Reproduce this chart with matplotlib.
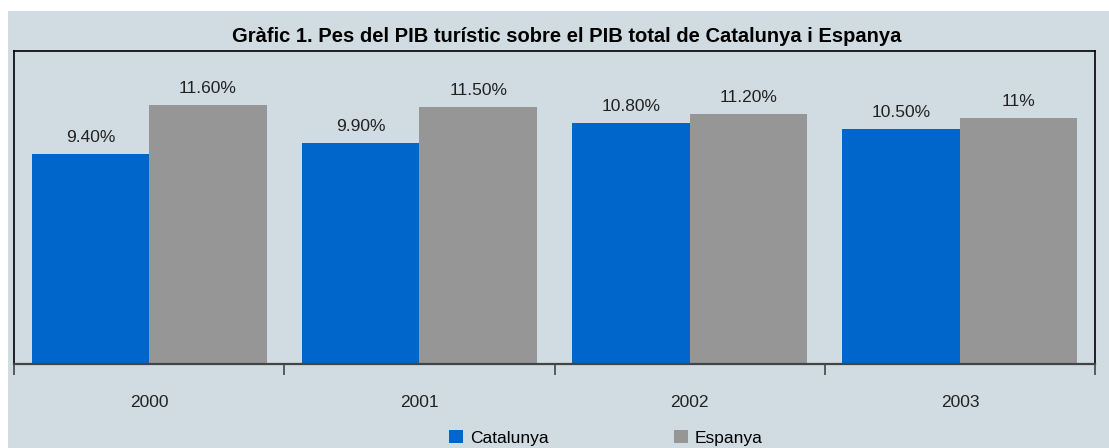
import numpy as np
import matplotlib.pyplot as plt
from matplotlib.patches import Rectangle

plt.rcParams['font.family'] = ['Liberation Sans', 'DejaVu Sans']

years = ['2000', '2001', '2002', '2003']
catalunya = [9.4, 9.9, 10.8, 10.5]
espanya = [11.6, 11.5, 11.2, 11.0]
cat_labels = ['9.40%', '9.90%', '10.80%', '10.50%']
esp_labels = ['11.60%', '11.50%', '11.20%', '11%']

bg = '#D0DCE1'
blue = '#0066CC'
grey = '#969696'

fig = plt.figure(figsize=(11.09, 4.48), dpi=100)
fig.patch.set_facecolor('white')
fig.patches.append(Rectangle((8 / 1109, 0), 1 - 8 / 1109, 1 - 11 / 448,
                             transform=fig.transFigure, facecolor=bg,
                             edgecolor='none', zorder=-5))

ax = fig.add_axes([14 / 1109, 1 - 364 / 448, 1081 / 1109, 313 / 448])
ax.set_zorder(1)
ax.set_facecolor(bg)

x = np.arange(len(years))
w = 0.435
ax.bar(x - w / 2, catalunya, w, color=blue, label='Catalunya')
ax.bar(x + w / 2, espanya, w, color=grey, label='Espanya')

for i in range(len(years)):
    ax.text(x[i] - w / 2, catalunya[i] + 0.4, cat_labels[i], ha='center',
            va='bottom', fontsize=12.5, color='#222222')
    ax.text(x[i] + w / 2, espanya[i] + 0.4, esp_labels[i], ha='center',
            va='bottom', fontsize=12.5, color='#222222')

ax.set_xlim(-0.5, len(years) - 0.5)
ax.set_ylim(0, 14)
ax.set_yticks([])
ax.set_xticks(np.arange(len(years) + 1) - 0.5)
ax.set_xticklabels([])
ax.set_xticks(x, minor=True)
ax.set_xticklabels(years, minor=True, fontsize=12.5, color='#222222')
ax.tick_params(axis='x', which='major', length=8, width=1.2, color='#444444', direction='out')
ax.tick_params(axis='x', which='minor', length=0, pad=22)

for s in ['left', 'top', 'right']:
    ax.spines[s].set_color('black')
    ax.spines[s].set_linewidth(1.2)
ax.spines['bottom'].set_color('#444444')
ax.spines['bottom'].set_linewidth(1.6)

fig.text(567 / 1109, 1 - 37 / 448, 'Gràfic 1. Pes del PIB turístic sobre el PIB total de Catalunya i Espanya',
         ha='center', va='center', fontsize=14.5, fontweight='bold', color='black')

leg = fig.legend(loc='center', bbox_to_anchor=(606 / 1109, 1 - 438 / 448), ncol=2,
                 frameon=False, fontsize=12.5, handlelength=0.8, handleheight=0.8,
                 handletextpad=0.4, columnspacing=7.2)

fig.savefig('out.png', dpi=100, facecolor=fig.get_facecolor())
